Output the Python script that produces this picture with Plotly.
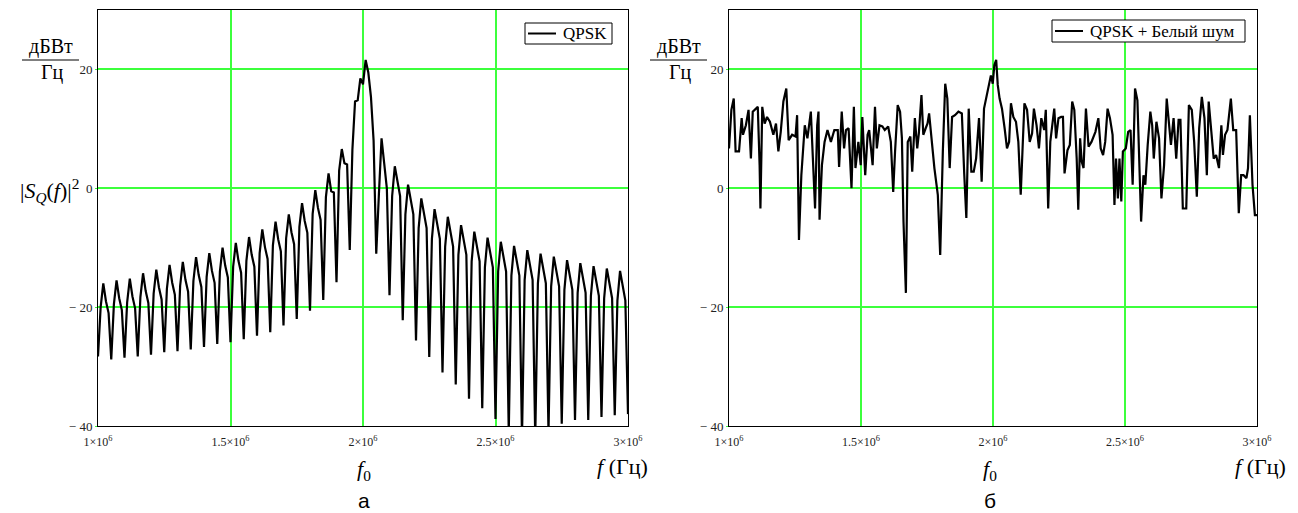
import numpy as np
import plotly.graph_objects as go

# ---------------- data ----------------
# Left panel: QPSK spectrum, sampled every 10 kHz from 1 MHz to 3 MHz
f_start_hz = 1.0e6
f_step_hz = 1.0e4
qpsk_db = [
    # left side lobes (trough, rise, peak, shoulder, decline)
    -28.3, -20.0, -16.0, -19.0, -21.0,
    -28.8, -19.5, -15.5, -18.5, -20.5,
    -28.5, -19.2, -15.2, -18.2, -20.2,
    -28.3, -18.3, -14.3, -17.3, -19.3,
    -28.0, -17.7, -13.7, -16.7, -18.7,
    -27.6, -16.9, -12.9, -15.9, -17.9,
    -27.4, -16.4, -12.4, -15.4, -17.4,
    -27.1, -15.6, -11.6, -14.6, -16.6,
    -26.7, -14.9, -10.9, -13.9, -15.9,
    -26.2, -14.0, -10.0, -13.0, -15.0,
    -25.9, -13.2, -9.2, -12.2, -14.2,
    -25.4, -12.2, -8.2, -11.2, -13.2,
    -24.8, -10.9, -6.9, -9.9, -11.9,
    -24.2, -9.6, -5.6, -8.6, -10.6,
    -23.1, -8.4, -4.4, -7.4, -9.4,
    -22.0, -6.5, -2.5, -5.5, -7.5,
    -20.6, -4.3, -0.3, -3.3, -5.3,
    -18.8, -1.5, 2.5, -0.5, -0.7,
    -15.8, 3.0, 6.6, 4.2, 4.0,
    # main lobe
    -10.4, 6.5, 14.6, 14.8, 18.5, 17.5, 21.6, 19.5, 15.4, 8.0,
    # right side lobes
    -11.0, -1.0, 8.4, 4.2, 0.0,
    -18.0, -1.3, 3.7, 1.2, -1.3,
    -22.2, -4.4, 0.6, -1.9, -4.4,
    -25.6, -6.7, -1.7, -4.2, -6.7,
    -28.4, -8.5, -3.5, -6.0, -8.5,
    -31.0, -9.8, -4.8, -7.3, -9.8,
    -33.0, -11.2, -6.2, -8.7, -11.2,
    -35.4, -12.3, -7.3, -9.8, -12.3,
    -37.0, -13.3, -8.3, -10.8, -13.3,
    -38.8, -14.0, -9.0, -11.5, -14.0,
    -41.0, -14.7, -9.7, -12.2, -14.7,
    -42.0, -15.4, -10.4, -12.9, -15.4,
    -42.0, -16.0, -11.0, -13.5, -16.0,
    -41.0, -16.5, -11.5, -14.0, -16.5,
    -39.6, -17.1, -12.1, -14.6, -17.1,
    -39.0, -17.6, -12.6, -15.1, -17.6,
    -39.0, -18.1, -13.1, -15.6, -18.1,
    -38.5, -18.5, -13.5, -16.0, -18.5,
    -38.2, -18.9, -13.9, -16.4, -18.9,
    -38.0,
]
qpsk_f = f_start_hz + f_step_hz * np.arange(len(qpsk_db))

# Right panel: QPSK + white noise (frequency in MHz, level in dB)
noisy_f_mhz = [
    1.000, 1.009, 1.018, 1.025, 1.038, 1.048, 1.053, 1.064, 1.074, 1.083,
    1.090, 1.100, 1.109, 1.116, 1.119, 1.126, 1.135, 1.144, 1.155, 1.168,
    1.178, 1.187, 1.196, 1.206, 1.217, 1.226, 1.239, 1.252, 1.258, 1.265,
    1.274, 1.287, 1.297, 1.310, 1.321, 1.326, 1.334, 1.339, 1.343, 1.352,
    1.362, 1.373, 1.386, 1.399, 1.412, 1.417, 1.427, 1.436, 1.443, 1.453,
    1.464, 1.473, 1.479, 1.490, 1.499, 1.505, 1.516, 1.525, 1.531, 1.544,
    1.553, 1.560, 1.570, 1.581, 1.590, 1.603, 1.613, 1.622, 1.629, 1.639,
    1.648, 1.655, 1.661, 1.670, 1.677, 1.687, 1.694, 1.704, 1.713, 1.719,
    1.729, 1.736, 1.745, 1.752, 1.758, 1.765, 1.778, 1.791, 1.800, 1.810,
    1.819, 1.827, 1.836, 1.845, 1.856, 1.869, 1.882, 1.891, 1.899, 1.908,
    1.918, 1.927, 1.936, 1.947, 1.957, 1.966, 1.975, 1.983, 1.992, 1.999,
    2.005, 2.012, 2.018, 2.025, 2.034, 2.044, 2.053, 2.061, 2.068, 2.077,
    2.087, 2.096, 2.105, 2.113, 2.119, 2.129, 2.139, 2.148, 2.155, 2.165,
    2.174, 2.183, 2.194, 2.200, 2.209, 2.217, 2.226, 2.232, 2.239, 2.248,
    2.258, 2.265, 2.271, 2.282, 2.291, 2.300, 2.308, 2.317, 2.323, 2.330,
    2.336, 2.343, 2.352, 2.362, 2.373, 2.382, 2.388, 2.399, 2.408, 2.417,
    2.425, 2.434, 2.443, 2.453, 2.460, 2.466, 2.473, 2.479, 2.486, 2.492,
    2.503, 2.512, 2.521, 2.529, 2.538, 2.547, 2.555, 2.561, 2.570, 2.577,
    2.586, 2.596, 2.603, 2.609, 2.619, 2.629, 2.638, 2.648, 2.658, 2.668,
    2.674, 2.684, 2.694, 2.703, 2.710, 2.719, 2.732, 2.742, 2.753, 2.762,
    2.772, 2.781, 2.791, 2.801, 2.810, 2.817, 2.827, 2.836, 2.845, 2.856,
    2.865, 2.871, 2.879, 2.888, 2.901, 2.910, 2.921, 2.931, 2.940, 2.949,
    2.960, 2.966, 2.973, 2.983, 2.992, 3.000,
]
noisy_db = [
    6.7, 13.2, 15.1, 6.2, 6.2, 11.8, 9.0, 10.6, 13.2, 5.0,
    12.9, 13.4, 13.7, 3.9, -3.4, 13.7, 10.9, 12.0, 11.2, 9.0,
    10.9, 6.2, 9.5, 14.6, 16.8, 8.1, 9.0, 8.7, 12.3, -8.7,
    2.2, 10.6, 8.4, 12.9, 2.2, -3.4, 10.6, 12.9, -5.3, 3.9,
    7.8, 9.8, 7.8, 9.8, 9.8, 3.6, 12.9, 6.7, 9.8, 10.1,
    0.0, 13.7, 3.4, 7.8, 3.9, 12.0, 2.2, 9.0, 9.8, 3.9,
    13.7, 6.7, 10.6, 10.4, 9.8, 10.4, 7.8, -0.6, 6.2, 14.0,
    12.9, 8.4, -5.6, -17.6, 7.8, 8.7, 2.8, 11.8, 6.7, 9.2,
    15.7, 9.0, 10.1, 10.9, 12.6, 9.0, 3.4, -1.1, -11.2, 6.2,
    17.6, 15.1, 3.4, 12.0, 12.3, 12.9, 12.6, 2.5, -5.0, 13.4,
    2.8, 2.8, 5.0, 11.8, 1.1, 13.4, 15.4, 17.6, 19.0, 17.6,
    20.7, 21.6, 17.4, 15.1, 13.4, 10.1, 6.7, 7.8, 14.3, 12.0,
    11.2, 7.8, -1.1, 7.8, 14.3, 13.2, 7.8, 9.2, 13.4, 10.6,
    6.7, 11.8, 9.8, 13.2, -3.4, 7.8, 11.8, 13.4, 8.4, 11.8,
    12.0, 12.0, 2.5, 6.4, 7.3, 14.6, 13.2, 5.0, -3.6, 8.4,
    4.5, 3.4, 13.4, 7.0, 7.8, 8.7, 9.5, 11.8, 6.7, 5.6,
    7.8, 13.4, 11.8, 9.0, -2.8, 5.0, -1.7, 5.0, -2.2, 6.2,
    6.7, 9.5, 9.8, 0.6, 16.8, 14.8, 0.6, -5.6, 2.2, 0.6,
    7.3, 12.9, 10.6, 5.0, 11.2, 8.4, -1.7, 3.9, 15.1, 10.1,
    7.3, 11.8, 5.0, 11.5, 11.5, -3.4, -3.4, 14.0, 13.2, 7.8,
    -1.4, 10.1, 15.4, 11.8, 2.2, 14.6, 9.0, 5.0, 5.6, 3.4,
    10.6, 5.6, 9.0, 9.8, 15.1, 9.8, 9.8, -4.2, 2.2, 2.2,
    1.7, 3.4, 12.3, 0.6, -4.5, -4.5,
]
noisy_f = [v * 1e6 for v in noisy_f_mhz]

x_tickvals = [1.0e6, 1.5e6, 2.0e6, 2.5e6, 3.0e6]
x_ticktext = ["1×10<sup>6</sup>", "1.5×10<sup>6</sup>", "2×10<sup>6</sup>",
              "2.5×10<sup>6</sup>", "3×10<sup>6</sup>"]
y_tickvals = [-40, -20, 0, 20]
y_ticktext = ["− 40", "− 20", "0", "20"]
legend_names = ["QPSK", "QPSK + Белый шум"]

# ---------------- figure ----------------
# The page body adds an 8 px margin, so the figure is 8 px smaller than the
# window and all layout positions are measured from the window's corner.
OFF = 8
W, H = 1298 - OFF, 513 - OFF
SERIF = "Liberation Serif, Times New Roman, serif"
GRID = "rgb(60,255,60)"


def px(x):
    return (x - OFF) / W


def py(y):
    return 1 - (y - OFF) / H


fig = go.Figure()
fig.add_trace(go.Scatter(x=qpsk_f, y=qpsk_db, mode="lines", name=legend_names[0],
                         line=dict(color="black", width=2.2),
                         xaxis="x", yaxis="y", showlegend=False))
fig.add_trace(go.Scatter(x=noisy_f, y=noisy_db, mode="lines", name=legend_names[1],
                         line=dict(color="black", width=2.2),
                         xaxis="x2", yaxis="y2", showlegend=False))

xaxis_common = dict(range=[1.0e6, 3.0e6], tickvals=x_tickvals, ticktext=x_ticktext,
                    automargin=False,
                    showgrid=True, gridcolor=GRID, gridwidth=1.5,
                    showline=True, linecolor="black", linewidth=1, mirror=True,
                    zeroline=False, ticks="", ticklabelstandoff=5,
                    tickfont=dict(family=SERIF, size=12, color="#222"))
yaxis_common = dict(range=[-40, 30], tickvals=y_tickvals, ticktext=y_ticktext,
                    automargin=False,
                    showgrid=True, gridcolor=GRID, gridwidth=1.5,
                    showline=True, linecolor="black", linewidth=1, mirror=True,
                    zeroline=False, ticks="outside", ticklen=2, tickcolor=GRID,
                    ticklabelstandoff=0,
                    tickfont=dict(family=SERIF, size=13, color="#222"))

fig.update_layout(
    width=W, height=H,
    margin=dict(l=0, r=0, t=0, b=0, autoexpand=False),
    paper_bgcolor="white", plot_bgcolor="white",
    xaxis=dict(domain=[px(98), px(628)], anchor="y", **xaxis_common),
    yaxis=dict(domain=[py(426), py(10)], anchor="x", **yaxis_common),
    xaxis2=dict(domain=[px(729), px(1257)], anchor="y2", **xaxis_common),
    yaxis2=dict(domain=[py(426), py(10)], anchor="x2", **yaxis_common),
    showlegend=False,
)

annotations = []
shapes = []


def text(t, x, y, size, xanchor="center", family=SERIF):
    annotations.append(dict(text=t, x=px(x), y=py(y), xref="paper", yref="paper",
                            xanchor=xanchor, yanchor="middle", showarrow=False,
                            font=dict(family=family, size=size, color="black")))


# unit fraction дБВт / Гц
for cx in (51, 679):
    text("дБВт", cx, 47, 20)
    text("Гц", cx + 1, 72, 20)
    shapes.append(dict(type="line", xref="paper", yref="paper",
                       x0=px(cx - 29), x1=px(cx + 28), y0=py(60), y1=py(60),
                       line=dict(color="black", width=1.2)))

text("|<i>S</i><sub><i>Q</i></sub>(<i>f</i>)|<sup>2</sup>", 49, 190, 22)

for cx, rx, letter in ((364, 650, "а"), (990, 1288, "б")):
    text("<i>f</i><sub>0</sub>", cx, 470, 22)
    text("<i>f</i> (Гц)", rx, 466, 22, xanchor="right")
    text(letter, cx, 500, 21, family="Liberation Sans, Arial, sans-serif")

# legends (box, line sample, label)
for (x0, x1, y0, y1), name in zip(((525, 612, 23, 44), (1052, 1245, 20, 42)), legend_names):
    shapes.append(dict(type="rect", xref="paper", yref="paper",
                       x0=px(x0), x1=px(x1), y0=py(y1), y1=py(y0),
                       line=dict(color="black", width=1), fillcolor="white", layer="above"))
    ym = (y0 + y1) / 2
    shapes.append(dict(type="line", xref="paper", yref="paper",
                       x0=px(x0 + 3), x1=px(x0 + 31), y0=py(ym), y1=py(ym),
                       line=dict(color="black", width=2), layer="above"))
    text(name, x0 + 36, ym, 17, xanchor="left")

fig.update_layout(annotations=annotations, shapes=shapes)
fig.write_html("out.html")
